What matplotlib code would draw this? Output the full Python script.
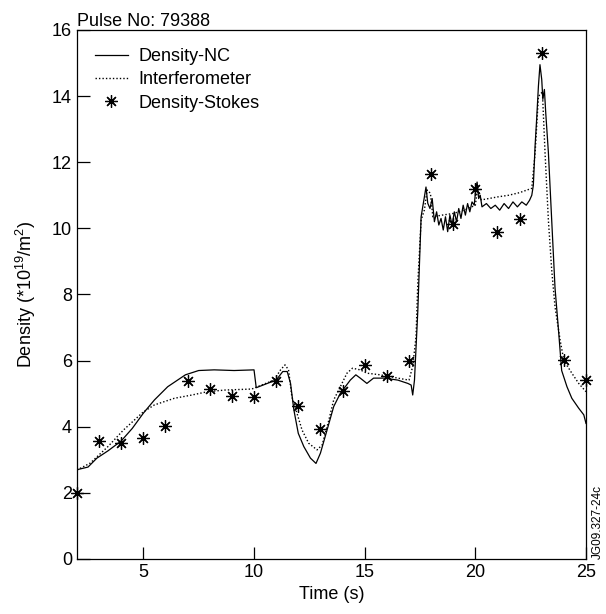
import numpy as np
import matplotlib
matplotlib.use('Agg')
import matplotlib.pyplot as plt

plt.rcParams['font.family'] = ['Liberation Sans', 'DejaVu Sans']
plt.rcParams['mathtext.fontset'] = 'custom'
plt.rcParams['mathtext.rm'] = 'Liberation Sans'

# Density-NC (solid)
t_nc = [2.0, 2.5, 2.9, 3.4, 4.0, 4.5, 5.0, 5.5, 6.1, 6.9, 7.5, 8.2, 9.1, 10.0,
        10.1, 10.6, 11.0, 11.3, 11.5, 11.65, 11.8, 12.0, 12.25, 12.55, 12.8,
        13.0, 13.3, 13.6, 13.9, 14.35, 14.6, 14.8, 15.1, 15.4, 15.9, 16.5,
        16.95, 17.1, 17.17, 17.25, 17.4, 17.55, 17.7, 17.77, 17.85, 17.95,
        18.05, 18.15, 18.25, 18.35, 18.45, 18.55, 18.65, 18.75, 18.85, 18.95,
        19.05, 19.15, 19.25, 19.35, 19.45, 19.55, 19.65, 19.75, 19.85, 19.95,
        20.02, 20.08, 20.15, 20.22, 20.3, 20.5, 20.7, 20.9, 21.1, 21.3, 21.5,
        21.7, 21.9, 22.1, 22.3, 22.45, 22.55, 22.62, 22.7, 22.77, 22.85, 22.92,
        23.0, 23.05, 23.12, 23.18, 23.3, 23.45, 23.6, 23.76, 23.9, 24.14,
        24.36, 24.67, 24.9, 25.0]
n_nc = [2.7, 2.78, 3.05, 3.27, 3.57, 3.95, 4.41, 4.81, 5.21, 5.57, 5.7, 5.72,
        5.7, 5.72, 5.18, 5.31, 5.41, 5.67, 5.67, 5.31, 4.51, 3.8, 3.4, 3.05,
        2.89, 3.2, 3.9, 4.61, 5.01, 5.41, 5.57, 5.47, 5.31, 5.47, 5.47, 5.41,
        5.31, 5.26, 4.96, 5.41, 7.5, 10.35, 10.96, 11.25, 10.76, 10.6,
        10.9, 10.2, 10.5, 10.1, 10.3, 9.95, 10.35, 9.9, 10.4, 10.1,
        10.5, 10.2, 10.6, 10.3, 10.7, 10.4, 10.75, 10.5, 10.8, 10.7,
        11.2, 11.4, 10.9, 11.0, 10.65, 10.75, 10.6, 10.7, 10.55, 10.75, 10.6,
        10.8, 10.65, 10.8, 10.7, 10.85, 11.0, 11.3, 12.5, 13.3, 14.3, 14.95,
        14.5, 13.9, 14.2, 13.5, 12.3, 10.25, 8.2, 6.9, 5.7, 5.21,
        4.86, 4.56, 4.36, 4.1]

# Interferometer (dotted)
t_if = [2.0, 2.6, 3.4, 4.1, 5.0, 5.5, 6.4, 7.2, 7.9, 8.7, 9.9, 10.9, 11.2,
        11.4, 11.56, 11.71, 11.94, 12.17, 12.47, 12.85, 13.08, 13.38, 13.6,
        13.9, 14.2, 14.45, 14.8, 15.1, 15.7, 16.5, 17.0, 17.17, 17.32, 17.4,
        17.55, 17.7, 17.82, 17.97, 18.08, 18.5, 19.0, 19.5, 20.0, 20.1, 20.27,
        21.0, 21.5, 22.0, 22.55, 22.7, 22.85, 23.03, 23.15, 23.3, 23.45, 23.6,
        23.83, 24.0, 24.36, 24.67, 25.0]
n_if = [2.69, 2.9, 3.4, 3.9, 4.45, 4.66, 4.86, 4.96, 5.06, 5.11, 5.14, 5.41,
        5.72, 5.87, 5.72, 4.91, 4.41, 3.9, 3.5, 3.3, 3.45, 4.2, 4.81,
        5.21, 5.62, 5.77, 5.72, 5.62, 5.57, 5.47, 5.41, 5.82, 6.72, 8.34,
        10.25, 10.56, 11.16, 11.06, 10.35, 10.4, 10.45, 10.55, 10.7, 11.2, 10.86,
        10.95, 11.0, 11.08, 11.21, 12.27, 13.99, 14.13, 12.27, 10.25, 8.74, 7.63,
        6.62, 6.0, 5.62, 5.31, 5.06]

# Density-Stokes (asterisks)
t_st = [2, 3, 4, 5, 6, 7, 8, 9, 10, 11, 12, 13, 14, 15, 16, 17, 18, 19, 20,
        21, 22, 23, 24, 25]
n_st = [2.0, 3.57, 3.5, 3.65, 4.02, 5.37, 5.14, 4.92, 4.91, 5.39, 4.64, 3.93,
        5.09, 5.86, 5.53, 5.98, 11.65, 10.12, 11.2, 9.9, 10.28, 15.3, 6.03, 5.4]

fig = plt.figure(figsize=(6.06, 6.14), dpi=100)
ax = fig.add_axes([0.127, 0.0896, 0.840, 0.8616])

ax.plot(t_nc, n_nc, color='black', lw=0.9, label='Density-NC')
ax.plot(t_if, n_if, color='black', lw=1.0, ls=(0, (1, 1.5)), label='Interferometer')
ax.plot(t_st, n_st, ls='none', marker=(8, 2, 0), ms=9, mew=0.9, color='black',
        label='Density-Stokes', clip_on=False)

ax.set_xlim(2, 25)
ax.set_ylim(0, 16)
ax.set_xticks([5, 10, 15, 20, 25])
ax.set_yticks(range(0, 17, 2))
ax.tick_params(direction='in', length=9, width=0.9, labelsize=13, top=False, right=False)
for s in ax.spines.values():
    s.set_linewidth(0.9)

ax.set_xlabel('Time (s)', fontsize=13, labelpad=4)
ax.set_ylabel('Density (*10$^{\\mathregular{19}}$/m$^{\\mathregular{2}}$)', fontsize=13, labelpad=10)

ax.text(0.0, 1.0, 'Pulse No: 79388', transform=ax.transAxes, fontsize=13,
        ha='left', va='bottom')
ax.text(1.012, 0.0, 'JG09.327-24c', transform=ax.transAxes, fontsize=8.5,
        rotation=90, ha='left', va='bottom')

ax.legend(loc='upper left', frameon=False, fontsize=13, handlelength=1.8,
          handletextpad=0.6, labelspacing=0.35, borderaxespad=0.6,
          bbox_to_anchor=(0.0, 1.0))

fig.savefig('out.png', dpi=100)
